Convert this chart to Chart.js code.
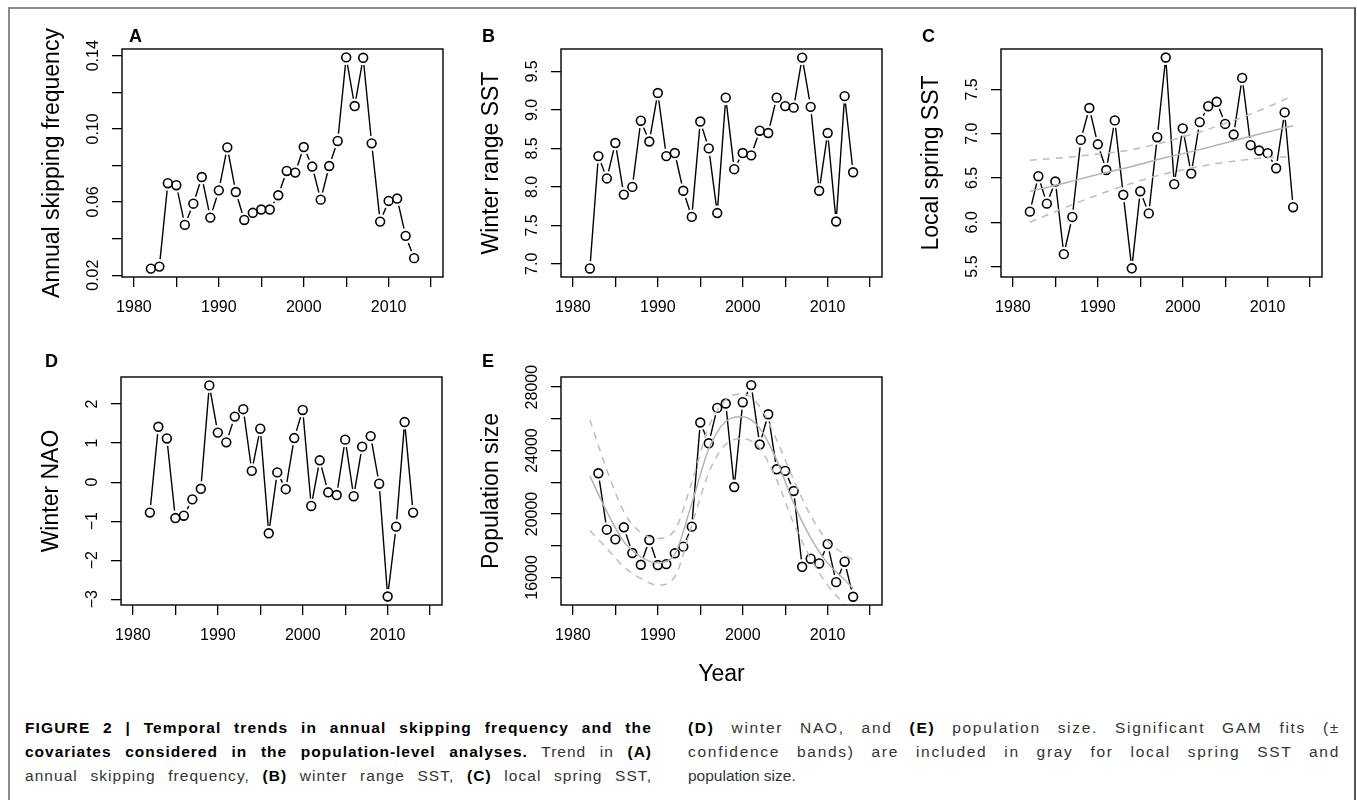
<!DOCTYPE html>
<html>
<head>
<title>Figure 2 - Temporal trends</title>
<script src="https://cdn.jsdelivr.net/npm/chart.js"></script>
<style>
  body { margin: 0; background: #fff; font-family: "Liberation Sans", Arial, sans-serif; }
  #page { position: relative; width: 1357px; height: 800px; overflow: hidden; }
  #frame { position: absolute; left: 8px; top: 7px; width: 1344px; height: 840px;
           border-left: 2px solid #8a8a8a; border-top: 2px solid #8a8a8a; border-right: 2px solid #555; }
  canvas.panel { position: absolute; }
  .letter { position: absolute; font: bold 18px/18px "Liberation Sans", Arial, sans-serif; color: #000; }
  .caption { position: absolute; top: 716px; font-family: "Liberation Sans", Arial, sans-serif;
             font-size: 15.5px; line-height: 24px; color: #333; }
  .caption div { text-align: justify; text-align-last: justify; white-space: nowrap; }
  .caption div.last { text-align-last: left; }
  .caption b { color: #000; }
</style>
</head>
<body>
<div id="page">
  <div id="frame"></div>

  <canvas class="panel" id="panelA" width="455" height="360" style="left:0px;top:0px"></canvas>
  <canvas class="panel" id="panelB" width="455" height="360" style="left:439px;top:0px"></canvas>
  <canvas class="panel" id="panelC" width="455" height="360" style="left:879px;top:0px"></canvas>
  <canvas class="panel" id="panelD" width="455" height="360" style="left:-1px;top:328px"></canvas>
  <canvas class="panel" id="panelE" width="455" height="360" style="left:439px;top:328px"></canvas>

  <div class="letter" style="left:129px;top:27px">A</div>
  <div class="letter" style="left:482px;top:27px">B</div>
  <div class="letter" style="left:922px;top:27px">C</div>
  <div class="letter" style="left:45px;top:352px">D</div>
  <div class="letter" style="left:482px;top:352px">E</div>

  <div class="caption" style="left:25px;width:627px">
    <div><span><b>FIGURE 2 | Temporal trends in annual skipping frequency and the</b></span></div>
    <div><span><b>covariates considered in the population-level analyses.</b> Trend in <b>(A)</b></span></div>
    <div><span>annual skipping frequency, <b>(B)</b> winter range SST, <b>(C)</b> local spring SST,</span></div>
  </div>
  <div class="caption" style="left:688px;width:652px">
    <div><span><b>(D)</b> winter NAO, and <b>(E)</b> population size. Significant GAM fits (±</span></div>
    <div><span>confidence bands) are included in gray for local spring SST and</span></div>
    <div class="last"><span>population size.</span></div>
  </div>
</div>

<script>
// ---- data ----
const years = [1982, 1983, 1984, 1985, 1986, 1987, 1988, 1989, 1990, 1991, 1992, 1993, 1994, 1995, 1996, 1997,
               1998, 1999, 2000, 2001, 2002, 2003, 2004, 2005, 2006, 2007, 2008, 2009, 2010, 2011, 2012, 2013];

const skipFreq = [0.0236, 0.0247, 0.0703, 0.0692, 0.0475, 0.0591, 0.0737, 0.0515, 0.0664, 0.0899, 0.0655, 0.0502,
                  0.0541, 0.0559, 0.0559, 0.0637, 0.0770, 0.0761, 0.0901, 0.0794, 0.0613, 0.0797, 0.0934, 0.1391,
                  0.1125, 0.1389, 0.0921, 0.0493, 0.0606, 0.0619, 0.0415, 0.0293];

const winterSST = [6.94, 8.40, 8.11, 8.57, 7.90, 8.00, 8.86, 8.59, 9.22, 8.40, 8.44, 7.95, 7.61, 8.85, 8.50, 7.66,
                   9.16, 8.23, 8.44, 8.41, 8.73, 8.70, 9.16, 9.05, 9.03, 9.68, 9.04, 7.95, 8.70, 7.55, 9.18, 8.19];

const springSST = [6.12, 6.52, 6.21, 6.46, 5.64, 6.06, 6.93, 7.29, 6.88, 6.59, 7.15, 6.31, 5.48, 6.35, 6.10, 6.96,
                   7.86, 6.43, 7.06, 6.55, 7.13, 7.31, 7.36, 7.11, 6.99, 7.63, 6.87, 6.81, 6.78, 6.61, 7.24, 6.17];

const winterNAO = [-0.78, 1.42, 1.12, -0.92, -0.86, -0.44, -0.17, 2.48, 1.27, 1.02, 1.68, 1.87, 0.29, 1.37, -1.31, 0.25,
                   -0.18, 1.13, 1.85, -0.61, 0.56, -0.26, -0.33, 1.09, -0.36, 0.91, 1.18, -0.04, -2.93, -1.14, 1.54, -0.78];

const popSize = [null, 22570, 19010, 18400, 19160, 17540, 16800, 18360, 16780, 16840, 17520, 17940, 19200, 25770, 24460, 26690,
                 26970, 21700, 27050, 28130, 24380, 26290, 22820, 22720, 21450, 16670, 17180, 16880, 18100, 15700, 16990, 14780];

// GAM fits (gray)
const springFitYears = [1982, 1986, 1990, 1994, 1998, 2002, 2006, 2010, 2013];
const springFit   = [6.35, 6.44, 6.54, 6.63, 6.73, 6.82, 6.92, 7.02, 7.09];
const springUpper = [6.70, 6.73, 6.77, 6.82, 6.91, 7.02, 7.15, 7.30, 7.43];
const springLower = [6.00, 6.16, 6.31, 6.44, 6.55, 6.63, 6.69, 6.73, 6.74];

const popFitYears = [1982, 1984, 1986, 1988, 1990, 1992, 1994, 1996, 1998, 2000, 2002, 2004, 2006, 2008, 2010, 2012, 2013];
const popFit   = [22400, 20140, 18250, 17300, 16920, 17470, 20670, 24100, 25830, 26140, 25410, 23410, 20670, 18500, 16900, 15850, 15300];
const popUpper = [25930, 22780, 20140, 18820, 18460, 18990, 22000, 25500, 27200, 27580, 26780, 24670, 22150, 19900, 18300, 17450, 17100];
const popLower = [18950, 17830, 16670, 15940, 15510, 16040, 19300, 22600, 24400, 24740, 24150, 22150, 19410, 17200, 15500, 14250, 13500];

// axis ticks
const xTicks = [1980, 1985, 1990, 1995, 2000, 2005, 2010, 2015];
const xTickLabels = ['1980', '', '1990', '', '2000', '', '2010', ''];

const skipTicks = [0.02, 0.04, 0.06, 0.08, 0.10, 0.12, 0.14];
const skipLabels = ['0.02', '', '0.06', '', '0.10', '', '0.14'];
const winterTicks = [7.0, 7.5, 8.0, 8.5, 9.0, 9.5];
const winterLabels = ['7.0', '7.5', '8.0', '8.5', '9.0', '9.5'];
const springTicks = [5.5, 6.0, 6.5, 7.0, 7.5];
const springLabels = ['5.5', '6.0', '6.5', '7.0', '7.5'];
const naoTicks = [-3, -2, -1, 0, 1, 2];
const naoLabels = ['\u22123', '\u22122', '\u22121', '0', '1', '2'];
const popTicks = [16000, 18000, 20000, 22000, 24000, 26000, 28000];
const popLabels = ['16000', '', '20000', '', '24000', '', '28000'];

// ---- caption: justified lines get part of their slack as letter spacing ----
document.querySelectorAll('.caption div:not(.last)').forEach(line => {
    const span = line.querySelector('span');
    line.style.textAlignLast = 'left';
    line.style.textAlign = 'left';
    const natural = span.getBoundingClientRect().width;
    const target = line.getBoundingClientRect().width;
    line.style.textAlignLast = '';
    line.style.textAlign = '';
    const n = span.textContent.length;
    line.style.letterSpacing = (0.5 * (target - natural) / n).toFixed(2) + 'px';
});

// ---- drawing ----
Chart.defaults.font.family = '"Liberation Sans", Arial, sans-serif';
Chart.defaults.color = '#000';

const plotBox = {
    id: 'plotBox',
    afterDraw(chart) {
        const {ctx, chartArea: a} = chart;
        ctx.save();
        ctx.strokeStyle = '#000';
        ctx.lineWidth = 1.4;
        ctx.strokeRect(a.left, a.top, a.right - a.left, a.bottom - a.top);
        ctx.restore();
    }
};

const toPoints = (xs, ys) => xs.map((x, i) => ({x: x, y: ys[i]}));

function gamLines(xs, fit, upper, lower) {
    const base = {showLine: true, pointRadius: 0, borderWidth: 1.5, cubicInterpolationMode: 'monotone'};
    return [
        {...base, data: toPoints(xs, fit), borderColor: '#b4b4b4', order: 0},
        {...base, data: toPoints(xs, upper), borderColor: '#bdbdbd', borderDash: [7, 6], order: 1},
        {...base, data: toPoints(xs, lower), borderColor: '#bdbdbd', borderDash: [7, 6], order: 2}
    ];
}

function makePanel(id, p) {
    const pts = toPoints(years, p.values);
    const datasets = [
        // the connecting line
        {data: pts, borderColor: '#000', borderWidth: 1.4, pointRadius: 0, order: 5},
        // white halos give the R type="b" gaps
        {data: pts, showLine: false, pointRadius: 7.5, pointBackgroundColor: '#fff', pointBorderColor: '#fff', pointBorderWidth: 0, order: 4},
        // open circles
        {data: pts, showLine: false, pointRadius: 4.4, pointBackgroundColor: 'rgba(0,0,0,0)', pointBorderColor: '#000', pointBorderWidth: 1.6, order: 3}
    ].concat(p.gam || []);

    const tickGrid = {drawOnChartArea: false, drawTicks: true, tickLength: 10, color: '#000', lineWidth: 1.3};

    return new Chart(document.getElementById(id), {
        type: 'line',
        data: {datasets: datasets},
        options: {
            responsive: false,
            animation: false,
            events: [],
            layout: {padding: {left: 0, top: 49, right: 12, bottom: 0}},
            plugins: {legend: {display: false}, tooltip: {enabled: false}},
            scales: {
                x: {
                    type: 'linear', min: 1978.6, max: 2016.4,
                    afterBuildTicks: s => { s.ticks = xTicks.map(v => ({value: v})); },
                    afterFit: s => { s.height = 83; },
                    ticks: {autoSkip: false, maxRotation: 0, padding: 11.4, font: {size: 16}, callback: (v, i) => xTickLabels[i]},
                    grid: tickGrid,
                    border: {display: false},
                    title: {display: !!p.xTitle, text: p.xTitle || '', font: {size: 23}, padding: 0}
                },
                y: {
                    type: 'linear', min: p.yMin, max: p.yMax,
                    afterBuildTicks: s => { s.ticks = p.yTicks.map(v => ({value: v})); },
                    afterFit: s => { s.width = 122; },
                    ticks: {autoSkip: false, minRotation: 90, maxRotation: 90, crossAlign: 'center',
                            padding: p.yPad, font: {size: 16}, callback: (v, i) => p.yLabels[i]},
                    grid: tickGrid,
                    border: {display: false},
                    title: {display: true, text: p.yTitle, font: {size: 23}, padding: {top: 39.2, bottom: 0}}
                }
            }
        },
        plugins: [plotBox]
    });
}

makePanel('panelA', {values: skipFreq, yMin: 0.0190, yMax: 0.1437, yTicks: skipTicks, yLabels: skipLabels,
                     yPad: 2.9, yTitle: 'Annual skipping frequency'});
makePanel('panelB', {values: winterSST, yMin: 6.829, yMax: 9.792, yTicks: winterTicks, yLabels: winterLabels,
                     yPad: 7.4, yTitle: 'Winter range SST'});
makePanel('panelC', {values: springSST, yMin: 5.382, yMax: 7.956, yTicks: springTicks, yLabels: springLabels,
                     yPad: 7.4, yTitle: 'Local spring SST',
                     gam: gamLines(springFitYears, springFit, springUpper, springLower)});
makePanel('panelD', {values: winterNAO, yMin: -3.148, yMax: 2.695, yTicks: naoTicks, yLabels: naoLabels,
                     yPad: 9.4, yTitle: 'Winter NAO'});
makePanel('panelE', {values: popSize, yMin: 14260, yMax: 28640, yTicks: popTicks, yLabels: popLabels,
                     yPad: -3.7, yTitle: 'Population size', xTitle: 'Year',
                     gam: gamLines(popFitYears, popFit, popUpper, popLower)});
</script>
</body>
</html>
